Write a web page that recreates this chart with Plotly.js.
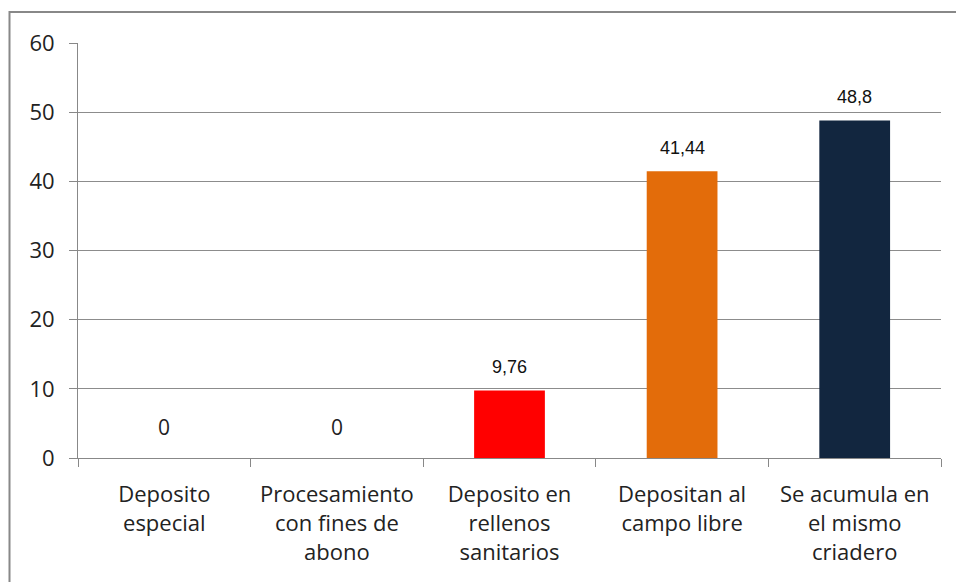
<!DOCTYPE html>
<html>
<head>
<meta charset="utf-8">
<script src="https://cdn.plot.ly/plotly-3.0.1.min.js"></script>
<style>
html,body{margin:0;padding:0;background:#fff;}
#chart{width:956px;height:582px;}
</style>
</head>
<body>
<div id="chart"></div>
<script>
const categories = [
  "Deposito<br>especial",
  "Procesamiento<br>con fines de<br>abono",
  "Deposito en<br>rellenos<br>sanitarios",
  "Depositan al<br>campo libre",
  "Se acumula en<br>el mismo<br>criadero"
];
const values = [0, 0, 9.76, 41.44, 48.8];
const valueLabels = ["0", "0", "9,76", "41,44", "48,8"];
const barColors = ["#FF0000", "#FF0000", "#FF0000", "#E36C0A", "#12263F"];
const yTicks = [0, 10, 20, 30, 40, 50, 60];

const trace = {
  type: "bar",
  x: categories,
  y: values,
  marker: {color: barColors, line: {width: 0}},
  width: 0.41,
  hoverinfo: "none"
};

const annotations = values.map((v, i) => {
  const zero = v === 0;
  return {
    x: categories[i], y: v, xref: "x", yref: "y",
    text: valueLabels[i], showarrow: false,
    yanchor: "bottom",
    yshift: zero ? 15 : 11,
    font: zero ? {family: "'Open Sans', sans-serif", size: 21, color: "#222"}
               : {family: "'Liberation Sans', Arial, sans-serif", size: 18, color: "#111"}
  };
});

const layout = {
  width: 956, height: 582,
  margin: {l: 78, r: 15, t: 43, b: 124},
  paper_bgcolor: "#fff", plot_bgcolor: "#fff",
  showlegend: false,
  bargap: 0.59,
  font: {family: "'Open Sans', sans-serif", size: 20, color: "#222"},
  xaxis: {
    type: "category",
    tickson: "boundaries",
    ticks: "outside", ticklen: 8, tickcolor: "#888", tickwidth: 1,
    showgrid: false, showline: true, linecolor: "#888", linewidth: 1,
    tickfont: {family: "'Open Sans', sans-serif", size: 22, color: "#222"},
    ticklabelstandoff: 17,
    fixedrange: true
  },
  yaxis: {
    range: [0, 60],
    tickvals: yTicks, ticktext: yTicks.map(String),
    ticks: "outside", ticklen: 8, tickcolor: "#888", tickwidth: 1,
    showgrid: true, gridcolor: "#8c8c8c", gridwidth: 1,
    showline: true, linecolor: "#888", linewidth: 1,
    zeroline: false,
    tickfont: {family: "'Open Sans', sans-serif", size: 22, color: "#222"},
    ticklabelstandoff: 10,
    fixedrange: true
  },
  annotations: annotations,
  shapes: [{
    type: "rect", xref: "paper", yref: "paper",
    x0: (9.5 - 78) / 863, x1: (965 - 78) / 863,
    y0: -0.5, y1: 1 + (43 - 12) / 415,
    line: {color: "#888", width: 2}, fillcolor: "rgba(0,0,0,0)", layer: "below"
  }]
};

Plotly.newPlot("chart", [trace], layout, {displayModeBar: false, staticPlot: true});
</script>
</body>
</html>
